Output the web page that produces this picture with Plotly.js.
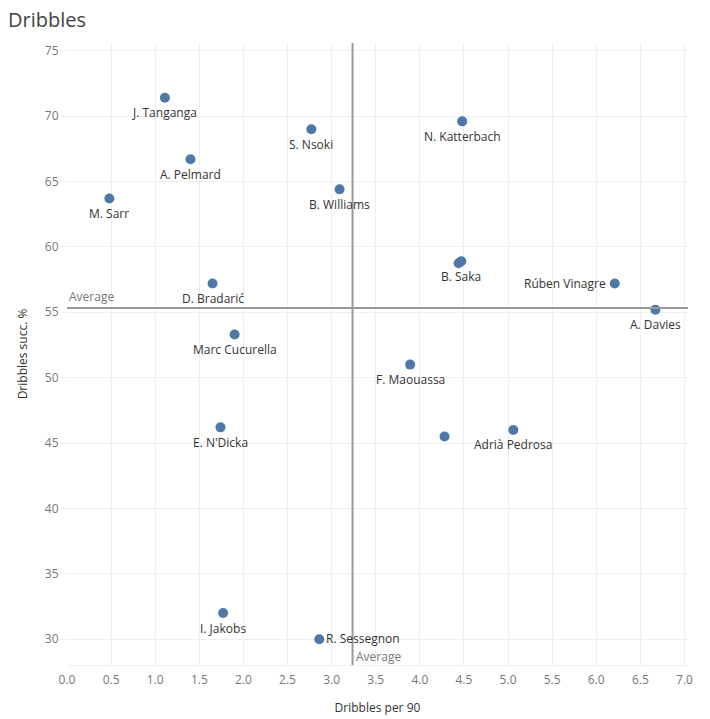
<!DOCTYPE html>
<html>
<head>
<meta charset="utf-8">
<script src="https://cdn.plot.ly/plotly-3.0.1.min.js"></script>
<style>html,body{margin:0;padding:0;background:#fff;}#chart{width:710px;height:719px;}</style>
</head>
<body>
<div id="chart"></div>
<script>
// ---- data ----
var players = ["J. Tanganga","N. Katterbach","S. Nsoki","A. Pelmard","B. Williams","M. Sarr",
  "B. Saka","","Rúben Vinagre","D. Bradarić","A. Davies","Marc Cucurella","F. Maouassa",
  "E. N'Dicka","","Adrià Pedrosa","I. Jakobs","R. Sessegnon"];
var dribblesPer90 = [1.11,4.48,2.77,1.40,3.09,0.48,4.47,4.44,6.21,1.65,6.67,1.90,3.89,1.74,4.28,5.06,1.77,2.86];
var dribbleSuccPct = [71.4,69.6,69.0,66.7,64.4,63.7,58.9,58.75,57.2,57.2,55.2,53.3,51.0,46.2,45.5,46.0,32.0,30.0];
var xTickVals = [0,0.5,1,1.5,2,2.5,3,3.5,4,4.5,5,5.5,6,6.5,7];
var yTickVals = [30,35,40,45,50,55,60,65,70,75];

function mean(a){ return a.reduce(function(s,v){return s+v;},0)/a.length; }
var avgX = mean(dribblesPer90);
var avgY = mean(dribbleSuccPct);

var FONT = "Open Sans, Lato, sans-serif";

var trace = {
  type: "scatter",
  mode: "markers",
  x: dribblesPer90,
  y: dribbleSuccPct,
  marker: {size: 10, color: "#4e79a7"},
  hoverinfo: "skip",
  cliponaxis: false
};

// label annotations (placement is style)
var labelAnnots = [];
players.forEach(function(name, i){
  if (!name) return;
  var a = {text: name, x: dribblesPer90[i], y: dribbleSuccPct[i], xref: "x", yref: "y",
           showarrow: false, borderpad: 0, font: {family: FONT, size: 12, color: "#333"},
           xanchor: "center", yanchor: "middle", yshift: -15};
  if (name === "Rúben Vinagre") { a.xanchor = "right"; a.yshift = 0; a.xshift = -8; }
  if (name === "R. Sessegnon") { a.xanchor = "left"; a.yshift = 1; a.xshift = 6; }
  labelAnnots.push(a);
});

var layout = {
  width: 710, height: 719,
  margin: {l: 67, r: 22, t: 43, b: 54},
  paper_bgcolor: "#fff", plot_bgcolor: "#fff",
  showlegend: false,
  font: {family: FONT, color: "#666", size: 12},
  title: {text: "Dribbles", x: 8/710, xref: "container", xanchor: "left",
          y: 1 - 20/719, yref: "container", yanchor: "middle",
          font: {family: FONT, size: 20, color: "#444"}},
  xaxis: {
    range: [0, 7.04], tickvals: xTickVals, tickformat: ".1f",
    showgrid: true, gridcolor: "#efefef", gridwidth: 1, zeroline: false,
    showline: true, linecolor: "#efefef", linewidth: 1, mirror: false,
    ticks: "", ticklabelstandoff: 4, tickfont: {family: FONT, size: 12, color: "#777"},
    title: {text: "Dribbles per 90", font: {family: FONT, size: 12, color: "#333"}, standoff: 16},
    automargin: false
  },
  yaxis: {
    range: [28.03, 75.59], tickvals: yTickVals,
    showgrid: true, gridcolor: "#efefef", gridwidth: 1, zeroline: false,
    showline: false, ticks: "outside", ticklen: 5, tickcolor: "#efefef",
    tickfont: {family: FONT, size: 12, color: "#777"},
    title: {text: "Dribbles succ. %", font: {family: FONT, size: 12, color: "#333"}, standoff: 14},
    automargin: false
  },
  shapes: [
    {type: "line", xref: "paper", yref: "y", x0: 0, x1: 1, y0: avgY, y1: avgY,
     line: {color: "#999", width: 2}},
    {type: "line", xref: "x", yref: "paper", x0: avgX, x1: avgX, y0: 0, y1: 1,
     line: {color: "#999", width: 2}}
  ],
  annotations: [
    {text: "Average", xref: "paper", yref: "y", x: 0, y: avgY, xanchor: "left", yanchor: "bottom",
     xshift: 1, yshift: 2, borderpad: 0, showarrow: false, font: {family: FONT, size: 12, color: "#777"}},
    {text: "Average", xref: "x", yref: "paper", x: avgX, y: 0, xanchor: "left", yanchor: "bottom",
     xshift: 2, yshift: -1, borderpad: 0, showarrow: false, font: {family: FONT, size: 12, color: "#777"}}
  ].concat(labelAnnots)
};

Plotly.newPlot("chart", [trace], layout, {displayModeBar: false, staticPlot: true});
</script>
</body>
</html>
